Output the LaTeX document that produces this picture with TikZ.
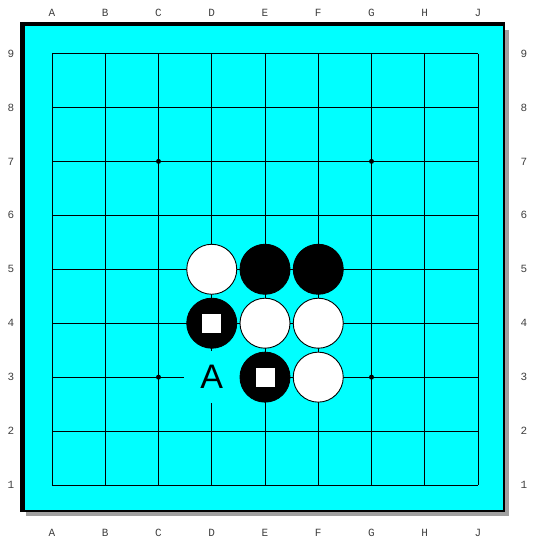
\documentclass[tikz,border=0pt]{standalone}
\usepackage{fontspec}
\setmainfont{Liberation Sans}
\newfontfamily\coordfont{Liberation Mono}
\definecolor{boardcyan}{HTML}{00FFFF}
\definecolor{shadowgray}{HTML}{A0A0A0}
\definecolor{labelgray}{HTML}{404040}
\begin{document}
\begin{tikzpicture}[x=1pt,y=-1pt,
  gridline/.style={line width=0.9pt,black},
  wstone/.style={circle,draw=black,line width=0.9pt,fill=white,minimum size=50pt,inner sep=0pt},
  bstone/.style={circle,draw=black,line width=0.9pt,fill=black,minimum size=50pt,inner sep=0pt},
  sqmark/.style={fill=white,minimum size=19pt,inner sep=0pt},
  coordlabel/.style={font=\coordfont\fontsize{11}{11}\selectfont,text=labelgray,inner sep=0pt},
  hoshi/.style={circle,fill=black,minimum size=5pt,inner sep=0pt}]
\useasboundingbox (0,0) rectangle (533,539);
% board
\fill[shadowgray] (26,30) rectangle (509,516);
\fill[black] (20,22) rectangle (505,512);
\fill[boardcyan] (25,26) rectangle (503,510);
% grid
\foreach \i in {0,...,8} {
  \draw[gridline] ({52+53.25*\i},53.5) -- ({52+53.25*\i},485);
  \draw[gridline] (52,{53.5+53.94*\i}) -- (478,{53.5+53.94*\i});
}
% coordinates helper: column index c (0..8), row r (1..9)
\def\px#1{52+53.25*#1}
\def\py#1{53.5+53.94*(9-#1)}
% star points
\node[hoshi] (hC7) at ({\px{2}},{\py{7}}) {};
\node[hoshi] (hG7) at ({\px{6}},{\py{7}}) {};
\node[hoshi] (hC3) at ({\px{2}},{\py{3}}) {};
\node[hoshi] (hG3) at ({\px{6}},{\py{3}}) {};
% label A
\node[fill=boardcyan,minimum width=56pt,minimum height=52pt,inner sep=0pt,font=\fontsize{34}{34}\selectfont] (lblA) at ({\px{3}},{\py{3}}) {A};
% stones
\node[wstone] (D5) at ({\px{3}},{\py{5}}) {};
\node[bstone] (E5) at ({\px{4}},{\py{5}}) {};
\node[bstone] (F5) at ({\px{5}},{\py{5}}) {};
\node[bstone] (D4) at ({\px{3}},{\py{4}}) {};
\node[wstone] (E4) at ({\px{4}},{\py{4}}) {};
\node[wstone] (F4) at ({\px{5}},{\py{4}}) {};
\node[bstone] (E3) at ({\px{4}},{\py{3}}) {};
\node[wstone] (F3) at ({\px{5}},{\py{3}}) {};
\node[sqmark] (mD4) at (D4.center) {};
\node[sqmark] (mE3) at (E3.center) {};
% coordinate labels
\foreach \l [count=\i from 0] in {A,B,C,D,E,F,G,H,J} {
  \node[coordlabel] (top\l) at ({\px{\i}},13) {\l};
  \node[coordlabel] (bot\l) at ({\px{\i}},533) {\l};
}
\foreach \r in {1,...,9} {
  \node[coordlabel] (left\r) at (11,{\py{\r}}) {\r};
  \node[coordlabel] (right\r) at (524,{\py{\r}}) {\r};
}
\end{tikzpicture}
\end{document}
